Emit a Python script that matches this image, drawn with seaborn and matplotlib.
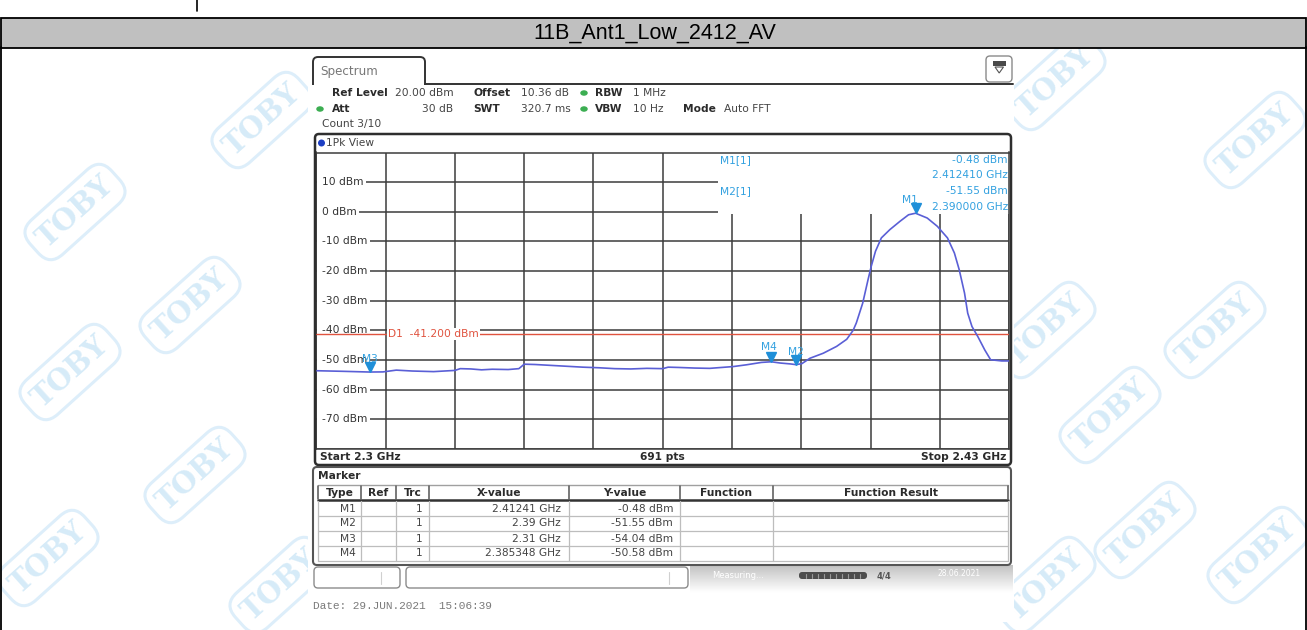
import numpy as np
import pandas as pd
import matplotlib
matplotlib.use("Agg")
import matplotlib.pyplot as plt
from matplotlib.patches import Rectangle, FancyBboxPatch, Ellipse, Polygon
from matplotlib.transforms import offset_copy, blended_transform_factory
import seaborn as sns

# ---------------- data ----------------
title = "11B_Ant1_Low_2412_AV"

# measured trace (GHz, dBm)
freq_ghz = [2.3000, 2.3050, 2.3100, 2.3125, 2.3150, 2.3180, 2.3220, 2.3260, 2.3270,
            2.3290, 2.3310, 2.3330, 2.3360, 2.3380, 2.3390, 2.3410, 2.3440, 2.3470,
            2.3500, 2.3530, 2.3560, 2.3590, 2.3620, 2.3650, 2.3660, 2.3680, 2.3710,
            2.3738, 2.3782, 2.3807, 2.3835, 2.385348, 2.3870, 2.3889, 2.3900, 2.3911,
            2.3926, 2.3951, 2.3976, 2.3995, 2.4007, 2.4013, 2.4025, 2.4035, 2.4041,
            2.4049, 2.4060, 2.4076, 2.4095, 2.4111, 2.41241, 2.4146, 2.4165, 2.4184,
            2.4197, 2.4206, 2.4216, 2.4222, 2.4230, 2.4241, 2.4254, 2.4265, 2.4286,
            2.4300]
level_dbm = [-53.6, -53.8, -54.04, -54.0, -53.4, -53.7, -53.9, -53.5, -52.9,
             -53.0, -53.3, -53.1, -53.2, -52.9, -51.4, -51.5, -51.8, -52.1,
             -52.4, -52.6, -52.9, -53.0, -52.8, -52.9, -52.4, -52.5, -52.7,
             -52.8, -52.2, -51.6, -50.8, -50.58, -51.0, -51.3, -51.55, -51.2,
             -49.4, -47.7, -45.4, -43.0, -40.0, -37.5, -30.8, -22.9, -18.4,
             -13.3, -8.8, -6.0, -3.2, -1.0, -0.48, -2.1, -4.9, -8.8,
             -13.9, -19.5, -27.4, -34.2, -38.7, -42.1, -46.6, -49.9, -50.3,
             -50.3]

marker_names = ["M1", "M2", "M3", "M4"]
marker_freq = [2.41241, 2.39, 2.31, 2.385348]
marker_level = [-0.48, -51.55, -54.04, -50.58]
marker_x_text = ["2.41241 GHz", "2.39 GHz", "2.31 GHz", "2.385348 GHz"]

display_line_dbm = -41.2
ytick_dbm = [10, 0, -10, -20, -30, -40, -50, -60, -70]
start_ghz, stop_ghz = 2.3, 2.43
ref_level_dbm, bottom_dbm = 20.0, -80.0
sweep_points = 691

table_cols = ["Type", "Ref", "Trc", "X-value", "Y-value", "Function", "Function Result"]

# ---------------- styling ----------------
sns.set_theme(style="white")
plt.rcParams["font.family"] = ["DejaVu Sans"]

TRACE = "#5a5fd6"
MKR = "#33a1e0"
LINE = "#e0533f"
INK = "#2b2b2b"
GRID = "#3c3c3c"
FS = 7.7

W, H = 1307, 630
fig = plt.figure(figsize=(W / 100, H / 100), dpi=100)


def pixel_axes(z):
    a = fig.add_axes([0, 0, 1, 1], zorder=z)
    a.set_xlim(0, W)
    a.set_ylim(H, 0)
    a.axis("off")
    a.patch.set_alpha(0)
    return a


bg = pixel_axes(0)

# watermark tiles
wm_pos = [(75, 212), (262, 120), (190, 305), (70, 372), (195, 475), (48, 558),
          (280, 585), (1255, 140), (1055, 82), (1215, 330), (1045, 330),
          (1110, 415), (1145, 530), (1258, 555), (1045, 585)]
for (x, y) in wm_pos:
    bg.text(x, y, "TOBY", rotation=42, fontsize=21, fontweight="bold",
            family="DejaVu Serif", color="#d6ebf8", ha="center", va="center",
            bbox=dict(boxstyle="round,pad=0.3,rounding_size=0.6", fc="none",
                      ec="#ddeefa", lw=2.2), zorder=1)

# page frame + caption band
bg.add_patch(Rectangle((308, 50), 706, 572, fc="white", ec="none", zorder=5))
bg.add_patch(Rectangle((0.8, 18), 1305.4, 29.5, fc="#c0c0c0", ec="black", lw=1.3, zorder=6))
bg.text(W / 2 + 1, 33, title, ha="center", va="center", fontsize=15.5,
        family="Liberation Sans", color="black", zorder=7)
bg.plot([0.8, 0.8], [47, H], color="black", lw=1.3, zorder=6)
bg.plot([1306.2, 1306.2], [47, H], color="black", lw=1.3, zorder=6)
bg.plot([196.5, 196.5], [0, 11], color="black", lw=1.2, zorder=6)

# ---------------- spectrum axes ----------------
L, R, T, B = 316.3, 1009.3, 152.5, 449.0
ax = fig.add_axes([L / W, 1 - B / H, (R - L) / W, (B - T) / H], zorder=1)
ax.set_xlim(start_ghz, stop_ghz)
ax.set_ylim(bottom_dbm, ref_level_dbm)
ax.set_xticks(np.linspace(start_ghz, stop_ghz, 11))
ax.set_yticks(np.arange(bottom_dbm, ref_level_dbm + 1, 10))
ax.grid(True, color=GRID, lw=1.1)
ax.set_axisbelow(True)
ax.tick_params(length=0, labelbottom=False, labelleft=False)
for s in ax.spines.values():
    s.set_color(GRID)
    s.set_linewidth(1.1)

blend = blended_transform_factory(ax.transAxes, ax.transData)

# marker readout panel masks the grid in the upper right
ax.add_patch(Rectangle((0.58, -0.8), 0.42, 20.8, transform=blend,
                       fc="white", ec="none", zorder=1))
# strip behind the level labels
ax.add_patch(Rectangle((0.0015, -75), 0.006, 90, transform=blend,
                       fc="white", ec="none", zorder=1.5))

# level labels inside the grid
for v in ytick_dbm:
    ax.text(0.008, v, f"{v} dBm", transform=blend, fontsize=FS, color="#333333",
            va="center", ha="left", zorder=3,
            bbox=dict(fc="white", ec="none", pad=2.0))

# display line
ax.axhline(display_line_dbm, color=LINE, lw=1.0, zorder=3.5)
ax.text(2.3135, display_line_dbm, f"D1  {display_line_dbm:.3f} dBm", color=LINE, fontsize=FS,
        va="center", ha="left", zorder=3.6,
        bbox=dict(fc="white", ec="none", pad=0.8))

# trace
trace = pd.DataFrame({"freq": freq_ghz, "level": level_dbm})
sns.lineplot(data=trace, x="freq", y="level", ax=ax, color=TRACE, lw=1.2,
             sort=False, estimator=None, zorder=4)
ax.set_xlabel("")
ax.set_ylabel("")

# markers
tri_tr = offset_copy(ax.transData, fig=fig, x=0, y=5, units="dots")
ax.plot(marker_freq, marker_level, ls="none", marker="v", ms=6.5, color="#1f8fd8",
        transform=tri_tr, zorder=5)
label_offsets = {"M1": (-6, 13), "M2": (0, 13), "M3": (0, 13), "M4": (-2, 15)}
for n, f, v in zip(marker_names, marker_freq, marker_level):
    dx, dy = label_offsets[n]
    ax.annotate(n, (f, v), xytext=(dx, dy), textcoords="offset pixels", ha="center",
                va="center", fontsize=FS, color=MKR, zorder=6)

# ---------------- overlay: instrument panels ----------------
fg = pixel_axes(2)

# "Spectrum" tab
fg.add_patch(FancyBboxPatch((313, 57), 112, 40, boxstyle="round,pad=0,rounding_size=5",
                            fc="white", ec="#333333", lw=1.4, zorder=1))
fg.add_patch(Rectangle((311, 84.6), 120, 20, fc="white", ec="none", zorder=2))
fg.plot([425, 1013], [83.5, 83.5], color="#333333", lw=1.4, zorder=3)
fg.text(320, 71, "Spectrum", fontsize=8.6, color="#777777", va="center", ha="left")

# settings icon
fg.add_patch(FancyBboxPatch((986, 56), 26, 26, boxstyle="round,pad=0,rounding_size=4",
                            fc="white", ec="#8a8a8a", lw=1.0, zorder=4))
fg.add_patch(Rectangle((992.5, 61), 13, 4.5, fc="#4a4a4a", ec="none", zorder=5))
fg.add_patch(Polygon([(995, 67), (1003.5, 67), (999.2, 73)], closed=True, fc="white",
                     ec="#555555", lw=0.8, zorder=5))


def info(x, y, s, bold=False, ha="left", color=INK):
    fg.text(x, y, s, fontsize=FS, fontweight="bold" if bold else "normal",
            color=color, ha=ha, va="center")


# settings text
info(332, 93, "Ref Level", True)
info(395, 93, "20.00 dBm", color="#444444")
info(473, 93, "Offset", True)
info(521, 93, "10.36 dB", color="#444444")
info(595, 93, "RBW", True)
info(633, 93, "1 MHz", color="#444444")
info(332, 109, "Att", True)
info(453, 109, "30 dB", ha="right", color="#444444")
info(473, 109, "SWT", True)
info(521, 109, "320.7 ms", color="#444444")
info(595, 109, "VBW", True)
info(633, 109, "10 Hz", color="#444444")
info(683, 109, "Mode", True)
info(724, 109, "Auto FFT", color="#444444")
info(322, 124, "Count 3/10", color="#444444")
for (x, y) in [(320, 109), (584, 93), (584, 109)]:
    fg.add_patch(Ellipse((x, y), 7.5, 5.5, fc="#3cae52", ec="none"))

# view frame
fg.add_patch(FancyBboxPatch((315, 134), 696, 331, boxstyle="round,pad=0,rounding_size=4",
                            fc="none", ec="#2e2e2e", lw=1.8))
fg.add_patch(Ellipse((321.5, 143), 7, 7, fc="#1d3fc4", ec="none"))
info(326, 143, "1Pk View", color="#444444")
info(320, 457.5, f"Start {start_ghz:g} GHz", True)
info(662, 457.5, f"{sweep_points} pts", True, ha="center")
info(1006, 457.5, f"Stop {stop_ghz:g} GHz", True, ha="right")

# marker readout (upper right)
for i, k in enumerate([0, 1]):
    y0 = 160 + i * 31.5
    info(720, y0, f"{marker_names[k]}[1]", color=MKR)
    info(1008, y0, f"{marker_level[k]:.2f} dBm", ha="right", color=MKR)
    info(1008, y0 + 15, f"{marker_freq[k]:.6f} GHz", ha="right", color=MKR)

# marker table
fg.add_patch(FancyBboxPatch((313, 467), 698, 98, boxstyle="round,pad=0,rounding_size=4",
                            fc="none", ec="#555555", lw=1.5))
info(318, 476, "Marker", True)
col_edges = [318, 361, 396, 429, 569, 680, 773, 1008]
fg.plot([318, 1008], [485, 485], color="#a0a0a0", lw=1.0)
fg.plot([318, 1008], [500, 500], color="#333333", lw=1.8)
for x in col_edges:
    fg.plot([x, x], [486, 499], color="#555555", lw=1.1)
    fg.plot([x, x], [501, 561], color="#bdbdbd", lw=0.9)
for y in [516, 531, 546, 561]:
    fg.plot([318, 1008], [y, y], color="#bdbdbd", lw=0.9)
for c, (a, b) in zip(table_cols, zip(col_edges[:-1], col_edges[1:])):
    info((a + b) / 2, 492.5, c, True, ha="center")
for i, n in enumerate(marker_names):
    y = 508.5 + i * 15
    info(356, y, n, ha="right", color="#444444")
    info(423, y, "1", ha="right", color="#444444")
    info(561, y, marker_x_text[i], ha="right", color="#444444")
    info(673, y, f"{marker_level[i]:.2f} dBm", ha="right", color="#444444")

# status bar
grad = np.linspace(0.76, 1.0, 32)[:, None] * np.ones((1, 2))
fg.imshow(grad, cmap="gray", vmin=0, vmax=1, extent=(690, 1013, 593, 565), aspect="auto", zorder=0)
fg.set_xlim(0, W)
fg.set_ylim(H, 0)
fg.add_patch(FancyBboxPatch((314, 567), 86, 21, boxstyle="round,pad=0,rounding_size=4",
                            fc="white", ec="#8c8c8c", lw=1.0))
fg.add_patch(FancyBboxPatch((406, 567), 282, 21, boxstyle="round,pad=0,rounding_size=4",
                            fc="white", ec="#8c8c8c", lw=1.0))
fg.plot([381, 381], [572, 584], color="#d0d0d0", lw=0.8)
fg.plot([669, 669], [572, 584], color="#d0d0d0", lw=0.8)
fg.text(712, 576, "Measuring...", fontsize=6, color="white", va="center")
fg.add_patch(FancyBboxPatch((799, 572), 68, 7, boxstyle="round,pad=0,rounding_size=3",
                            fc="#4d4d4d", ec="none"))
for x in np.arange(806, 862, 6):
    fg.plot([x, x], [573.5, 577.5], color="#9a9a9a", lw=0.8)
fg.text(884, 576, "4/4", fontsize=6, fontweight="bold", color="#555555", ha="center", va="center")
fg.text(938, 573, "28.06.2021", fontsize=5.5, color="white", va="center")

fg.text(313, 606, "Date: 29.JUN.2021  15:06:39", fontsize=8, family="Liberation Mono",
        color="#7a7a7a", va="center")

fig.savefig("out.png", dpi=100)
